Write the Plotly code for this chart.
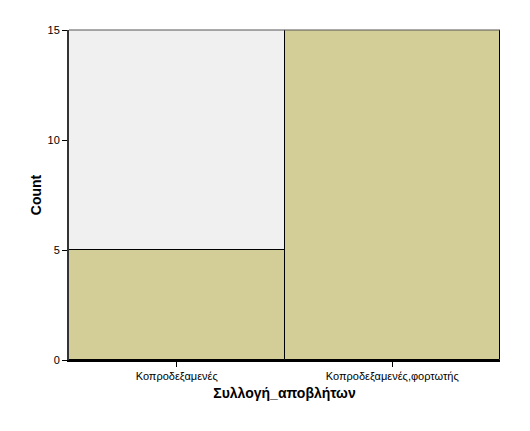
import plotly.graph_objects as go

categories = ["Κοπροδεξαμενές", "Κοπροδεξαμενές,φορτωτής"]
counts = [5, 15]
y_ticks = [0, 5, 10, 15]

fig = go.Figure()
fig.add_trace(go.Bar(
    x=categories, y=counts,
    marker=dict(color="#d3ce98", line=dict(color="#000000", width=1)),
    width=1,
))

# page body adds ~8px offset, so margins are trimmed to match the reference
fig.update_layout(
    width=530, height=431,
    margin=dict(l=61, r=38, t=22, b=79),
    paper_bgcolor="white",
    plot_bgcolor="#f0f0f0",
    bargap=0,
    showlegend=False,
    font=dict(family="Liberation Sans, Arial", size=11, color="#000000"),
)
fig.update_xaxes(
    title=dict(text="<b>Συλλογή_αποβλήτων</b>", font=dict(size=14), standoff=7),
    showgrid=False, showline=True, linecolor="#000000", linewidth=2,
    ticks="outside", ticklen=5, tickcolor="#000000", tickwidth=1,
    range=[-0.5, 1.5],
)
fig.update_yaxes(
    title=dict(text="<b>Count</b>", font=dict(size=14), standoff=3),
    showgrid=False, showline=True, linecolor="#333333", linewidth=2,
    ticks="outside", ticklen=5, tickcolor="#000000", tickwidth=1,
    tickvals=y_ticks, range=[0, 15], zeroline=False,
)
# gray top frame line of the plot area
fig.add_shape(type="line", xref="paper", yref="paper", x0=0, x1=1, y0=1, y1=1,
              line=dict(color="#555555", width=1))

fig.write_html("out.html")
